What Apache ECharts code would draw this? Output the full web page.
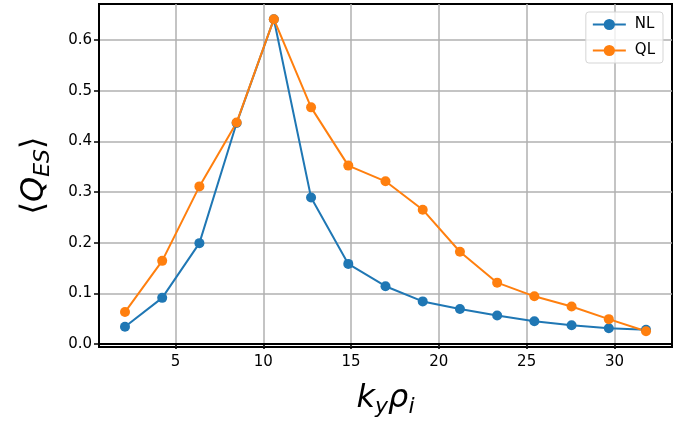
<!DOCTYPE html>
<html>
<head>
<meta charset="utf-8">
<script src="https://cdn.jsdelivr.net/npm/echarts@6/dist/echarts.min.js"></script>
<style>
html,body{margin:0;padding:0;background:#fff;}
#chart{width:687px;height:427px;}
</style>
</head>
<body>
<div id="chart"></div>
<script>
const kyRho = [2.12, 4.24, 6.36, 8.48, 10.6, 12.72, 14.84, 16.96, 19.08, 21.2, 23.32, 25.44, 27.56, 29.68, 31.8];
const nlValues = [0.034, 0.091, 0.199, 0.436, 0.641, 0.289, 0.158, 0.114, 0.084, 0.069, 0.056, 0.045, 0.037, 0.031, 0.028];
const qlValues = [0.063, 0.164, 0.311, 0.437, 0.641, 0.467, 0.352, 0.321, 0.265, 0.182, 0.121, 0.094, 0.074, 0.049, 0.025];
const xTicks = [5, 10, 15, 20, 25, 30];
const yTicks = [0.0, 0.1, 0.2, 0.3, 0.4, 0.5, 0.6];
const seriesNames = ['NL', 'QL'];

const font = 'DejaVu Sans';
const chart = echarts.init(document.getElementById('chart'), null, {renderer: 'canvas'});

function pairs(xs, ys) { return xs.map((x, i) => [x, ys[i]]); }

const option = {
  animation: false,
  backgroundColor: '#fff',
  grid: {left: 99, right: 15, top: 4, bottom: 80, show: true, borderColor: '#000', borderWidth: 2, backgroundColor: 'transparent'},
  legend: {
    orient: 'vertical', right: 24, top: 12,
    padding: [5, 8, 5, 6], itemWidth: 33, itemHeight: 14, itemGap: 11,
    borderColor: '#d5d5d5', borderWidth: 1, borderRadius: 3,
    backgroundColor: 'rgba(255,255,255,0.8)',
    textStyle: {fontFamily: font, fontSize: 15, color: '#000', padding: [0, 0, 0, 4]},
    data: seriesNames
  },
  xAxis: {
    type: 'value', min: 0.64, max: 33.28,
    axisLine: {show: true, lineStyle: {color: '#000', width: 2}},
    axisTick: {show: true, customValues: xTicks, length: 5, lineStyle: {color: '#000', width: 1.5}},
    axisLabel: {show: true, customValues: xTicks, fontFamily: font, fontSize: 15, color: '#000', margin: 8},
    splitLine: {show: true, lineStyle: {color: '#b0b0b0', width: 1.5}},
    name: '{k|k}{s|y}{k|ρ}{s|i}',
    nameLocation: 'middle', nameGap: 36,
    nameTextStyle: {
      rich: {
        k: {fontFamily: font, fontStyle: 'italic', fontSize: 32, color: '#000', verticalAlign: 'top', lineHeight: 32},
        s: {fontFamily: font, fontStyle: 'italic', fontSize: 22, color: '#000', verticalAlign: 'top', lineHeight: 22, padding: [13, 0, 0, 0]}
      }
    }
  },
  yAxis: {
    type: 'value', min: -0.006, max: 0.671,
    axisLine: {show: true, lineStyle: {color: '#000', width: 2}},
    axisTick: {show: true, customValues: yTicks, length: 5, lineStyle: {color: '#000', width: 1.5}},
    axisLabel: {show: true, customValues: yTicks, fontFamily: font, fontSize: 15, color: '#000', margin: 7,
      formatter: v => v.toFixed(1)},
    splitLine: {show: true, lineStyle: {color: '#b0b0b0', width: 1.5}},
    name: '{a|⟨}{k|Q}{s|ES}{a|⟩}',
    nameLocation: 'middle', nameGap: 48, nameRotate: 90,
    nameTextStyle: {
      rich: {
        a: {fontFamily: font, fontSize: 32, color: '#000', verticalAlign: 'top', lineHeight: 32},
        k: {fontFamily: font, fontStyle: 'italic', fontSize: 32, color: '#000', verticalAlign: 'top', lineHeight: 32},
        s: {fontFamily: font, fontStyle: 'italic', fontSize: 22, color: '#000', verticalAlign: 'top', lineHeight: 22, padding: [13, 0, 0, 0]}
      }
    }
  },
  series: [
    {name: seriesNames[0], type: 'line', data: pairs(kyRho, nlValues), color: '#1f77b4',
      symbol: 'circle', symbolSize: 10, lineStyle: {width: 2}, itemStyle: {color: '#1f77b4'}},
    {name: seriesNames[1], type: 'line', data: pairs(kyRho, qlValues), color: '#ff7f0e',
      symbol: 'circle', symbolSize: 10, lineStyle: {width: 2}, itemStyle: {color: '#ff7f0e'}}
  ]
};
chart.setOption(option);
</script>
</body>
</html>
